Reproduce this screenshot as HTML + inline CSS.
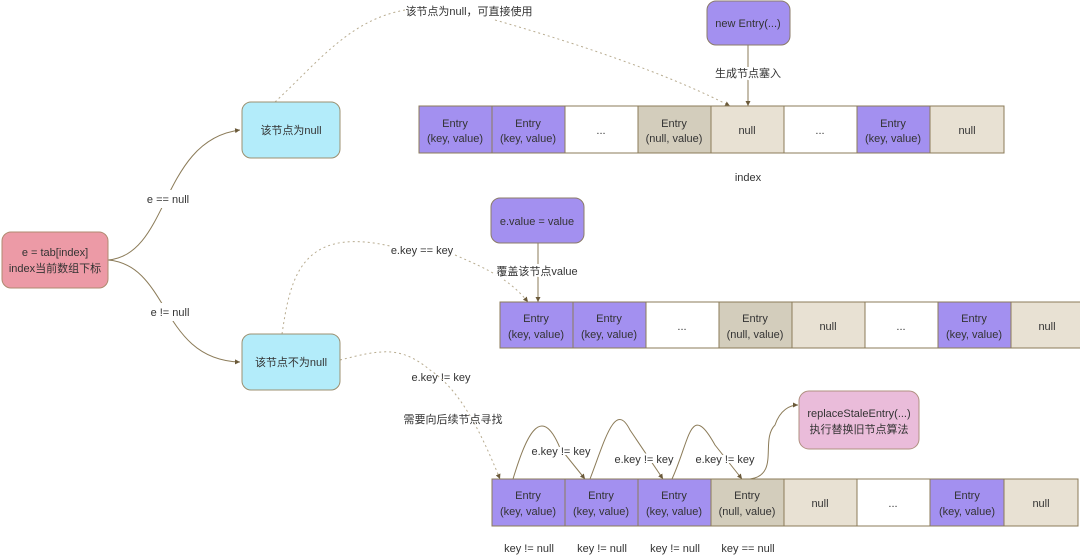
<!DOCTYPE html>
<html><head><meta charset="utf-8"><style>
body{margin:0;background:#fff}
svg text{font-family:"Liberation Sans","Noto Sans CJK SC",sans-serif;font-size:11px;fill:#333}
</style></head><body>
<svg width="1080" height="555" viewBox="0 0 1080 555" xmlns="http://www.w3.org/2000/svg">
<defs>
<marker id="a" markerWidth="6" markerHeight="6" refX="5" refY="3" orient="auto"><path d="M0,0.5 L5,3 L0,5.5z" fill="#6b5a3a"/></marker>
</defs>
<g fill="none" stroke="#8b7b58" stroke-width="1">
<!-- main branches -->
<path d="M108,260 C170,255 160,140 240,130" marker-end="url(#a)"/>
<path d="M108,260 C170,265 160,360 240,362" marker-end="url(#a)"/>
<path d="M748,45 L748,106" marker-end="url(#a)"/>
<path d="M538,243 L538,302" marker-end="url(#a)"/>
<!-- loops row3 -->
<path d="M513,479 C525,440 540,400 560,448 L585,479" marker-end="url(#a)"/>
<path d="M590,479 C605,440 615,400 630,430 L663,479" marker-end="url(#a)"/>
<path d="M672,479 C690,440 690,400 715,445 L742,479" marker-end="url(#a)"/>
<path d="M750,479 C780,475 760,440 775,425 C780,410 790,405 798,405" marker-end="url(#a)"/>
</g>
<g fill="none" stroke="#b8ac90" stroke-width="1" stroke-dasharray="2,3">
<path d="M275,102 C320,60 350,20 405,10"/>
<path d="M495,20 C600,50 680,80 730,106" marker-end="url(#a)"/>
<path d="M282,334 C290,280 300,230 380,244 L390,246"/>
<path d="M455,255 C490,270 510,280 528,302" marker-end="url(#a)"/>
<path d="M340,360 C380,350 400,345 430,370 C460,390 480,430 500,479" marker-end="url(#a)"/>
</g>
<!-- nodes -->
<rect x="2" y="232" width="106" height="56" rx="9" fill="#ec9aa6" stroke="#b08a70"/>
<text x="55" y="256" text-anchor="middle">e = tab[index]</text>
<text x="55" y="272" text-anchor="middle">index当前数组下标</text>
<rect x="242" y="102" width="98" height="56" rx="9" fill="#b3ecfa" stroke="#9c9070"/>
<text x="291" y="134" text-anchor="middle">该节点为null</text>
<rect x="242" y="334" width="98" height="56" rx="9" fill="#b3ecfa" stroke="#9c9070"/>
<text x="291" y="366" text-anchor="middle">该节点不为null</text>
<rect x="707" y="1" width="83" height="44" rx="9" fill="#a390f0" stroke="#8b7b68"/>
<text x="748" y="27" text-anchor="middle">new Entry(...)</text>
<rect x="491" y="198" width="93" height="45" rx="9" fill="#a390f0" stroke="#8b7b68"/>
<text x="537" y="225" text-anchor="middle">e.value = value</text>
<rect x="799" y="391" width="120" height="58" rx="10" fill="#eabcda" stroke="#b09080"/>
<text x="859" y="417" text-anchor="middle">replaceStaleEntry(...)</text>
<text x="859" y="433" text-anchor="middle">执行替换旧节点算法</text>
<!-- labels -->
<g fill="#fff"><rect x="133" y="190" width="70" height="18"/><rect x="140" y="303" width="60" height="18"/></g>
<text x="168" y="203" text-anchor="middle">e == null</text>
<text x="170" y="316" text-anchor="middle">e != null</text>
<text x="469" y="15" text-anchor="middle">该节点为null，可直接使用</text>
<text x="748" y="77" text-anchor="middle" style="paint-order:stroke" stroke="#fff" stroke-width="4">生成节点塞入</text>
<text x="748" y="181" text-anchor="middle">index</text>
<text x="422" y="254" text-anchor="middle">e.key == key</text>
<text x="537" y="275" text-anchor="middle" style="paint-order:stroke" stroke="#fff" stroke-width="4">覆盖该节点value</text>
<text x="441" y="381" text-anchor="middle">e.key != key</text>
<text x="453" y="423" text-anchor="middle">需要向后续节点寻找</text>
<g style="paint-order:stroke" stroke="#fff" stroke-width="4">
<text x="561" y="455" text-anchor="middle">e.key != key</text>
<text x="644" y="463" text-anchor="middle">e.key != key</text>
<text x="725" y="463" text-anchor="middle">e.key != key</text>
</g>
<text x="529" y="552" text-anchor="middle">key != null</text>
<text x="602" y="552" text-anchor="middle">key != null</text>
<text x="675" y="552" text-anchor="middle">key != null</text>
<text x="748" y="552" text-anchor="middle">key == null</text>
<!-- row1 -->
<g stroke="#8b7b58">
<rect x="419" y="106" width="73" height="47" fill="#a390f0"/><rect x="492" y="106" width="73" height="47" fill="#a390f0"/><rect x="565" y="106" width="73" height="47" fill="#fff"/><rect x="638" y="106" width="73" height="47" fill="#d3cdbc"/><rect x="711" y="106" width="73" height="47" fill="#e8e1d3"/><rect x="784" y="106" width="73" height="47" fill="#fff"/><rect x="857" y="106" width="73" height="47" fill="#a390f0"/><rect x="930" y="106" width="74" height="47" fill="#e8e1d3"/>
<rect x="500" y="302" width="73" height="46" fill="#a390f0"/><rect x="573" y="302" width="73" height="46" fill="#a390f0"/><rect x="646" y="302" width="73" height="46" fill="#fff"/><rect x="719" y="302" width="73" height="46" fill="#d3cdbc"/><rect x="792" y="302" width="73" height="46" fill="#e8e1d3"/><rect x="865" y="302" width="73" height="46" fill="#fff"/><rect x="938" y="302" width="73" height="46" fill="#a390f0"/><rect x="1011" y="302" width="73" height="46" fill="#e8e1d3"/>
<rect x="492" y="479" width="73" height="47" fill="#a390f0"/><rect x="565" y="479" width="73" height="47" fill="#a390f0"/><rect x="638" y="479" width="73" height="47" fill="#a390f0"/><rect x="711" y="479" width="73" height="47" fill="#d3cdbc"/><rect x="784" y="479" width="73" height="47" fill="#e8e1d3"/><rect x="857" y="479" width="73" height="47" fill="#fff"/><rect x="930" y="479" width="74" height="47" fill="#a390f0"/><rect x="1004" y="479" width="74" height="47" fill="#e8e1d3"/>
</g>
<g text-anchor="middle">
<text x="455" y="127">Entry</text><text x="455" y="142">(key, value)</text>
<text x="528" y="127">Entry</text><text x="528" y="142">(key, value)</text>
<text x="601" y="134">...</text>
<text x="674" y="127">Entry</text><text x="674" y="142">(null, value)</text>
<text x="747" y="134">null</text>
<text x="820" y="134">...</text>
<text x="893" y="127">Entry</text><text x="893" y="142">(key, value)</text>
<text x="967" y="134">null</text>

<text x="536" y="322">Entry</text><text x="536" y="338">(key, value)</text>
<text x="609" y="322">Entry</text><text x="609" y="338">(key, value)</text>
<text x="682" y="330">...</text>
<text x="755" y="322">Entry</text><text x="755" y="338">(null, value)</text>
<text x="828" y="330">null</text>
<text x="901" y="330">...</text>
<text x="974" y="322">Entry</text><text x="974" y="338">(key, value)</text>
<text x="1047" y="330">null</text>

<text x="528" y="499">Entry</text><text x="528" y="515">(key, value)</text>
<text x="601" y="499">Entry</text><text x="601" y="515">(key, value)</text>
<text x="674" y="499">Entry</text><text x="674" y="515">(key, value)</text>
<text x="747" y="499">Entry</text><text x="747" y="515">(null, value)</text>
<text x="820" y="507">null</text>
<text x="893" y="507">...</text>
<text x="967" y="499">Entry</text><text x="967" y="515">(key, value)</text>
<text x="1041" y="507">null</text>
</g>
</svg>
</body></html>
